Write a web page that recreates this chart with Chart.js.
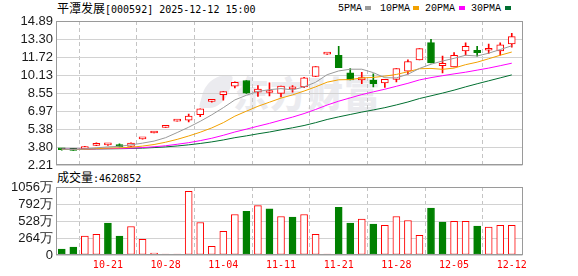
<!DOCTYPE html>
<html><head><meta charset="utf-8">
<script src="https://cdn.jsdelivr.net/npm/chart.js@4.4.1/dist/chart.umd.min.js"></script>
<style>
html,body{margin:0;padding:0;background:#fff;width:578px;height:276px;overflow:hidden}
body{position:relative}
.t{position:absolute;white-space:nowrap;line-height:12px;color:#000}
.cn{font-family:"Noto Sans CJK SC";font-size:12px}
.m{font-family:"DejaVu Sans Mono";font-size:10px}
.lm{font-family:"Liberation Mono";font-size:10px}
.sw{position:absolute;width:6px;height:4px}
canvas{position:absolute;left:0}
#wm{position:absolute;left:233px;top:72px;font-family:"Noto Sans CJK SC";font-weight:900;font-size:36px;line-height:40px;color:#ebebef;letter-spacing:1px;white-space:nowrap}
#logo{position:absolute;left:203px;top:76px;width:26px;height:32px;background:#ebebef;border-radius:60% 10% 60% 10%;transform:skewX(-15deg)}
</style></head><body>
<div id="logo"></div>
<div id="wm">东方财富</div>
<div class="t cn" style="left:57px;top:2px">平潭发展<span class="m">[000592] 2025-12-12 15:00</span></div>
<div class="t lm" style="left:338px;top:3px">5PMA</div><div class="sw" style="left:365px;top:6px;background:#9a9a9a"></div>
<div class="t lm" style="left:380px;top:3px">10PMA</div><div class="sw" style="left:413px;top:6px;background:#f2a100"></div>
<div class="t lm" style="left:425px;top:3px">20PMA</div><div class="sw" style="left:459px;top:6px;background:#ff00ff"></div>
<div class="t lm" style="left:471px;top:3px">30PMA</div><div class="sw" style="left:505px;top:6px;background:#006f30"></div>
<div class="t cn" style="left:57px;top:171px">成交量<span class="m">:4620852</span></div>
<canvas id="pc" width="578" height="176" style="top:0"></canvas>
<canvas id="vc" width="578" height="101" style="top:175px"></canvas>
<script>
const dates=['10-15','10-16','10-17','10-20','10-21','10-22','10-23','10-24','10-27','10-28','10-29','10-30','10-31','11-03','11-04','11-05','11-06','11-07','11-10','11-11','11-17','11-18','11-19','11-20','11-21','11-24','11-25','11-26','11-27','11-28','12-01','12-02','12-03','12-04','12-05','12-08','12-09','12-10','12-11','12-12'];
const opens=[3.62,3.57,3.62,3.95,4.00,4.03,3.86,4.52,5.04,5.54,6.09,6.18,6.66,7.82,8.42,9.15,9.66,8.64,8.60,8.52,8.92,9.10,10.02,11.98,11.88,10.33,9.70,9.69,9.45,9.75,10.48,11.46,12.99,10.96,10.86,12.26,12.32,12.32,12.26,12.88];
const highs=[3.64,3.60,3.86,4.17,4.06,4.08,4.18,4.58,5.04,5.54,6.09,6.70,7.17,7.89,8.68,9.55,9.66,9.22,9.45,9.17,9.22,9.93,10.89,11.98,12.67,10.71,10.38,10.25,9.76,10.71,11.47,12.46,13.27,11.80,12.11,12.96,12.67,12.85,12.96,13.81];
const lows=[3.54,3.50,3.60,3.93,3.96,3.82,3.84,4.49,5.04,5.54,6.09,6.02,6.48,7.75,7.92,9.00,8.53,8.25,8.30,8.22,8.63,9.02,10.00,11.95,10.78,9.70,9.38,9.10,9.04,9.54,10.22,11.46,11.21,10.33,10.86,11.88,11.79,12.03,11.88,12.58];
const closes=[3.57,3.52,3.84,4.14,4.01,3.85,4.16,4.58,5.04,5.54,6.09,6.52,7.17,7.89,8.68,9.50,8.55,8.90,8.62,9.16,8.94,9.90,10.89,11.98,10.78,9.70,9.91,9.37,9.75,10.71,11.33,12.46,11.21,11.16,11.88,12.67,12.11,12.46,12.79,13.52];
const volumes=[93,124,294,320,495,294,443,242,31,15,15,989,505,134,366,629,680,768,716,598,587,629,320,5,742,495,557,479,459,598,536,305,727,510,521,521,448,433,459,462.0852];
const ma5=[3.61,3.59,3.63,3.74,3.82,3.87,4.00,4.15,4.33,4.63,5.08,5.55,6.07,6.64,7.27,7.95,8.36,8.70,8.85,8.95,8.83,9.10,9.50,10.17,10.50,10.65,10.65,10.35,9.90,9.89,10.21,10.72,11.09,11.37,11.61,11.88,11.81,12.06,12.38,12.71];
const ma10=[3.60,3.59,3.61,3.67,3.71,3.73,3.79,3.89,4.03,4.23,4.48,4.78,5.11,5.49,5.95,6.52,6.96,7.39,7.75,8.11,8.39,8.73,9.10,9.51,9.72,9.74,9.88,9.93,10.04,10.19,10.43,10.69,10.72,10.64,10.75,11.05,11.27,11.57,11.88,12.16];
const ma20=[3.62,3.61,3.62,3.65,3.67,3.68,3.71,3.76,3.83,3.92,4.05,4.19,4.37,4.58,4.84,5.13,5.38,5.64,5.89,6.17,6.44,6.75,7.11,7.50,7.84,8.13,8.42,8.66,8.89,9.15,9.41,9.71,9.91,10.08,10.24,10.39,10.57,10.75,10.96,11.18];
const ma30=[3.62,3.62,3.62,3.64,3.65,3.66,3.68,3.71,3.76,3.82,3.90,4.00,4.12,4.26,4.43,4.63,4.79,4.97,5.13,5.32,5.50,5.70,5.95,6.23,6.46,6.67,6.88,7.07,7.27,7.51,7.77,8.07,8.31,8.55,8.81,9.10,9.37,9.63,9.89,10.15];
const priceTicks=[2.21,3.80,5.38,6.97,8.55,10.13,11.72,13.30,14.89];
const volTicks=[0,264,528,792,1056];
const dateTickIdx=[5,10,15,20,25,30,35,40];

const RED='#ff0000', GREEN='#008000';
const up=i=>closes[i]>=opens[i];
const volUp=i=>i===0?closes[0]>=opens[0]:closes[i]>closes[i-1];
const pts=arr=>arr.map((v,i)=>({x:i+1,y:v}));

const frame={id:'frame',afterDraw(c){const a=c.chartArea,g=c.ctx;g.save();g.strokeStyle='#9a9a9a';g.lineWidth=1;
  const l=Math.round(a.left)+0.5,t=Math.round(a.top)+0.5,r=Math.round(a.right)-0.5,b=Math.round(a.bottom)-0.5;
  g.strokeRect(l,t,r-l,b-t);g.restore();}};

function xScale(showLabels){
  return {type:'linear',min:0.5,max:40.93,offset:false,
    afterBuildTicks:s=>{s.ticks=dateTickIdx.map(v=>({value:v}));},
    afterFit:s=>{s.height=showLabels?21:10.5;},
    grid:{color:'#c4c4c4',lineWidth:1,drawTicks:false},
    border:{display:false,dash:[4,3]},
    ticks:{display:showLabels,autoSkip:false,maxRotation:0,padding:4,color:RED,
      font:{family:'DejaVu Sans Mono',size:10},callback:v=>dates[v-1]}};
}
function yScale(min,max,ticks,fmt){
  return {type:'linear',position:'left',min:min,max:max,
    afterBuildTicks:s=>{s.ticks=ticks.map(v=>({value:v}));},
    afterFit:s=>{s.width=56;},
    grid:{color:'#d2d2d2',lineWidth:1,drawTicks:false},
    border:{display:false},
    ticks:{autoSkip:false,padding:3,color:'#1a1a1a',font:{family:'Liberation Sans',size:13},callback:fmt}};
}

new Chart(document.getElementById('pc'),{
  type:'bar',
  data:{datasets:[
    {type:'line',data:pts(ma5),borderColor:'#9a9a9a',borderWidth:1,pointRadius:0,order:0},
    {type:'line',data:pts(ma10),borderColor:'#f2a100',borderWidth:1,pointRadius:0,order:0},
    {type:'line',data:pts(ma20),borderColor:'#ff00ff',borderWidth:1,pointRadius:0,order:0},
    {type:'line',data:pts(ma30),borderColor:'#006f30',borderWidth:1,pointRadius:0,order:0},
    {data:opens.map((o,i)=>({x:i+1,y:[o,closes[i]]})),barThickness:7,minBarLength:2,borderWidth:1,borderSkipped:false,
      backgroundColor:c=>up(c.dataIndex)?'#ffffff':GREEN,borderColor:c=>up(c.dataIndex)?RED:GREEN,order:1},
    {data:lows.map((l,i)=>({x:i+1,y:[l,highs[i]]})),barThickness:1,minBarLength:1,borderWidth:0,
      backgroundColor:c=>up(c.dataIndex)?RED:GREEN,order:2}
  ]},
  options:{responsive:false,animation:false,events:[],
    layout:{padding:{top:21,right:55.5,left:0,bottom:0}},
    datasets:{bar:{grouped:false}},
    plugins:{legend:{display:false},tooltip:{enabled:false}},
    scales:{x:xScale(false),y:yScale(2.21,14.89,priceTicks,v=>v.toFixed(2))}},
  plugins:[frame]
});

new Chart(document.getElementById('vc'),{
  type:'bar',
  data:{datasets:[
    {data:volumes.map((v,i)=>({x:i+1,y:v})),barThickness:7,minBarLength:1,borderWidth:1,borderSkipped:false,
      backgroundColor:c=>volUp(c.dataIndex)?'#ffffff':GREEN,borderColor:c=>volUp(c.dataIndex)?RED:GREEN}
  ]},
  options:{responsive:false,animation:false,events:[],
    layout:{padding:{top:12,right:55.5,left:0,bottom:0}},
    datasets:{bar:{grouped:false}},
    plugins:{legend:{display:false},tooltip:{enabled:false}},
    scales:{x:xScale(true),y:yScale(0,1056,volTicks,v=>v===0?'0':v+'万')}},
  plugins:[frame]
});
</script>
</body></html>
